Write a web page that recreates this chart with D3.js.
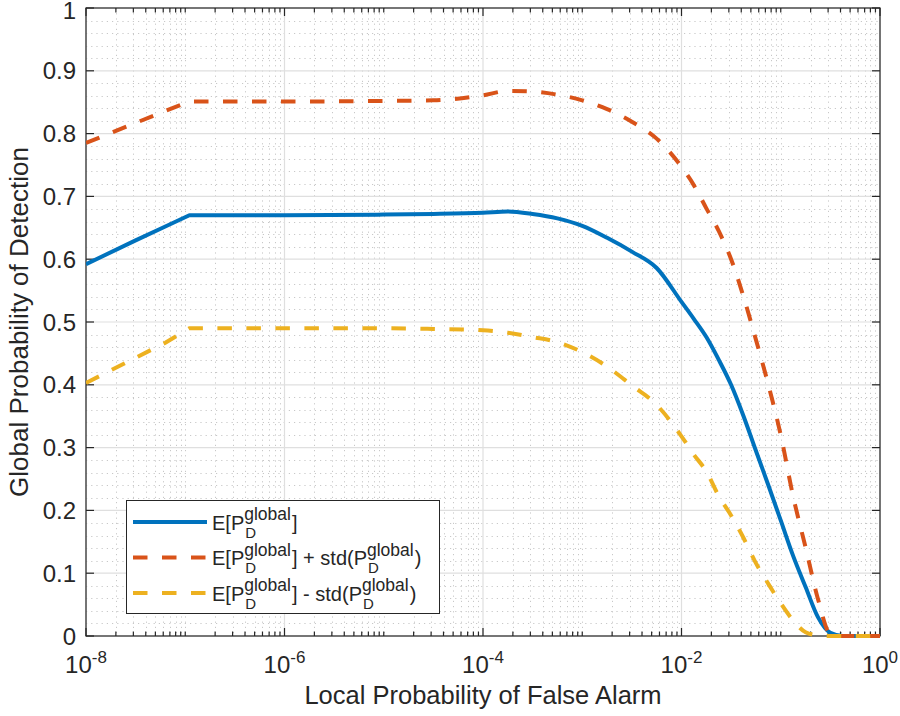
<!DOCTYPE html>
<html>
<head>
<meta charset="utf-8">
<script src="https://cdn.jsdelivr.net/npm/d3@7"></script>
<style>
  body { margin: 0; background: #fff; }
  svg { display: block; font-family: "Liberation Sans", Arial, Helvetica, sans-serif; }
</style>
</head>
<body>
<div class="figure"></div>
<script>
// local probability of false alarm (x values)
const pfa = [1e-8, 3.16e-8, 6.3e-8, 1.1e-7, 1e-6, 1e-5, 3.16e-5, 1e-4, 1.78e-4, 3.16e-4, 5.62e-4,
  1e-3, 1.78e-3, 3.16e-3, 5.62e-3, 1e-2, 1.33e-2, 1.78e-2, 2.37e-2, 3.16e-2,
  4.22e-2, 5.62e-2, 7.5e-2, 0.1, 0.133, 0.178, 0.237, 0.316, 0.422, 0.562, 1]

// E[Pd global]
const meanPd = [0.592, 0.630, 0.652, 0.670, 0.670, 0.671, 0.672, 0.674, 0.676, 0.672, 0.665,
  0.653, 0.634, 0.612, 0.586, 0.532, 0.505, 0.476, 0.440, 0.400,
  0.350, 0.295, 0.240, 0.184, 0.128, 0.078, 0.030, 0.005, 0, 0, 0]

// E + std
const upperPd = [0.785, 0.817, 0.836, 0.851, 0.851, 0.852, 0.853, 0.861, 0.868, 0.867, 0.862,
  0.853, 0.839, 0.819, 0.792, 0.747, 0.718, 0.681, 0.645, 0.600,
  0.540, 0.472, 0.400, 0.320, 0.223, 0.141, 0.059, 0.003, 0, 0, 0]

// E - std
const lowerPd = [0.403, 0.443, 0.467, 0.490, 0.490, 0.490, 0.489, 0.487, 0.483, 0.476, 0.468,
  0.452, 0.429, 0.399, 0.368, 0.318, 0.289, 0.262, 0.223, 0.192,
  0.156, 0.116, 0.083, 0.052, 0.025, 0.006, 0.001, 0, 0, 0, 0]

const yTicks = [0, 0.1, 0.2, 0.3, 0.4, 0.5, 0.6, 0.7, 0.8, 0.9, 1]
const yTickLabels = ["0", "0.1", "0.2", "0.3", "0.4", "0.5", "0.6", "0.7", "0.8", "0.9", "1"]
const xTicks = [1e-8, 1e-6, 1e-4, 1e-2, 1]
const xTickExps = ["-8", "-6", "-4", "-2", "0"]

const series = [
  {name: "mean", values: meanPd, color: "#0072BD", dash: null},
  {name: "plus", values: upperPd, color: "#D95319", dash: "14.5,14.5"},
  {name: "minus", values: lowerPd, color: "#EDB120", dash: "14.5,14.5"}
]

const width = 900
const height = 716
const plotLeft = 86, plotRight = 880, plotTop = 8, plotBottom = 636
const axisColor = "#262626"

const x = d3.scaleLog().domain([1e-8, 1]).range([plotLeft, plotRight])
const y = d3.scaleLinear().domain([0, 1]).range([plotBottom, plotTop])

const svg = d3.select(".figure").append("svg")
    .attr("width", width)
    .attr("height", height)

svg.append("rect").attr("width", width).attr("height", height).attr("fill", "#fff")

// minor positions
let xMinor = []
d3.range(-8, 0).forEach(e => {
  d3.range(1, 10).forEach(k => {
    let v = k * Math.pow(10, e)
    if (!(k === 1 && e % 2 === 0)) xMinor.push(v)
  })
})
let yMinor = d3.range(1, 50).map(i => i * 0.02).filter(v => Math.abs(v * 10 - Math.round(v * 10)) > 1e-6)

const grid = svg.append("g")

// minor grid (dotted)
grid.selectAll(".xminor").data(xMinor).join("line")
    .attr("x1", d => Math.round(x(d)) + 0.5).attr("x2", d => Math.round(x(d)) + 0.5)
    .attr("y1", plotTop).attr("y2", plotBottom)
    .attr("stroke", "#c8c8c8").attr("stroke-width", 1).attr("stroke-dasharray", "1.2,4")
grid.selectAll(".yminor").data(yMinor).join("line")
    .attr("x1", plotLeft).attr("x2", plotRight)
    .attr("y1", d => Math.round(y(d)) + 0.5).attr("y2", d => Math.round(y(d)) + 0.5)
    .attr("stroke", "#c8c8c8").attr("stroke-width", 1).attr("stroke-dasharray", "1.2,4")

// major grid
grid.selectAll(".xmajor").data(xTicks).join("line")
    .attr("x1", d => x(d)).attr("x2", d => x(d))
    .attr("y1", plotTop).attr("y2", plotBottom)
    .attr("stroke", "#dfdfdf").attr("stroke-width", 1.2)
grid.selectAll(".ymajor").data(yTicks).join("line")
    .attr("x1", plotLeft).attr("x2", plotRight)
    .attr("y1", d => y(d)).attr("y2", d => y(d))
    .attr("stroke", "#dfdfdf").attr("stroke-width", 1.2)

// axes box and ticks
const ax = svg.append("g").attr("stroke", axisColor).attr("stroke-width", 1.2)
ax.append("rect").attr("x", plotLeft).attr("y", plotTop)
    .attr("width", plotRight - plotLeft).attr("height", plotBottom - plotTop).attr("fill", "none")

yTicks.forEach(v => {
  ax.append("line").attr("x1", plotLeft).attr("x2", plotLeft + 8).attr("y1", y(v)).attr("y2", y(v))
  ax.append("line").attr("x1", plotRight).attr("x2", plotRight - 8).attr("y1", y(v)).attr("y2", y(v))
})
xTicks.forEach(v => {
  ax.append("line").attr("x1", x(v)).attr("x2", x(v)).attr("y1", plotBottom).attr("y2", plotBottom - 8)
  ax.append("line").attr("x1", x(v)).attr("x2", x(v)).attr("y1", plotTop).attr("y2", plotTop + 8)
})
xMinor.forEach(v => {
  ax.append("line").attr("x1", x(v)).attr("x2", x(v)).attr("y1", plotBottom).attr("y2", plotBottom - 4.5)
  ax.append("line").attr("x1", x(v)).attr("x2", x(v)).attr("y1", plotTop).attr("y2", plotTop + 4.5)
})

// tick labels
svg.append("g").selectAll("text").data(yTicks).join("text")
    .attr("x", 76)
    .attr("y", d => Math.max(y(d) + 8.5, 19))
    .attr("text-anchor", "end")
    .attr("font-size", 24)
    .attr("fill", axisColor)
    .text((d, i) => yTickLabels[i])

const xl = svg.append("g").selectAll("text").data(xTicks).join("text")
    .attr("x", d => x(d))
    .attr("y", 673)
    .attr("text-anchor", "middle")
    .attr("font-size", 24)
    .attr("fill", axisColor)
xl.append("tspan").text("10")
xl.append("tspan").attr("dy", -10).attr("font-size", 17).text((d, i) => xTickExps[i])

// axis labels
svg.append("text")
    .attr("x", (plotLeft + plotRight) / 2)
    .attr("y", 704)
    .attr("text-anchor", "middle")
    .attr("font-size", 25.5)
    .attr("fill", axisColor)
    .text("Local Probability of False Alarm")

svg.append("text")
    .attr("transform", `translate(28, ${(plotTop + plotBottom) / 2}) rotate(-90)`)
    .attr("text-anchor", "middle")
    .attr("font-size", 26)
    .attr("fill", axisColor)
    .text("Global Probability of Detection")

// data lines
svg.append("clipPath").attr("id", "plotclip")
  .append("rect").attr("x", plotLeft).attr("y", plotTop - 3)
    .attr("width", plotRight - plotLeft + 2).attr("height", plotBottom - plotTop + 6)

// straight rise up to the knee at ~1e-7, smooth curve after it
const kneeIndex = 3
const straight = d3.line().x(d => x(d[0])).y(d => y(d[1]))
const smooth = d3.line().x(d => x(d[0])).y(d => y(d[1])).curve(d3.curveMonotoneX)

function seriesPath(pts) {
  let head = straight(pts.slice(0, kneeIndex + 1))
  let tail = smooth(pts.slice(kneeIndex)).replace(/^M/, "L")
  return head + tail
}

const lines = svg.append("g").attr("clip-path", "url(#plotclip)")
series.forEach(s => {
  lines.append("path")
      .datum(pfa.map((p, i) => [p, s.values[i]]))
      .attr("fill", "none")
      .attr("stroke", s.color)
      .attr("stroke-width", 4)
      .attr("stroke-dasharray", s.dash)
      .attr("stroke-linejoin", "round")
      .attr("d", seriesPath)
})

// legend
const legend = svg.append("g")
legend.append("rect")
    .attr("x", 126.5).attr("y", 500.5)
    .attr("width", 313).attr("height", 113)
    .attr("fill", "#fff")
    .attr("stroke", axisColor)
    .attr("stroke-width", 1)

const legendRows = [
  [{t: "E[P"}, {sup: "global", sub: "D"}, {t: "]"}],
  [{t: "E[P"}, {sup: "global", sub: "D"}, {t: "] + std(P"}, {sup: "global", sub: "D"}, {t: ")"}],
  [{t: "E[P"}, {sup: "global", sub: "D"}, {t: "] - std(P"}, {sup: "global", sub: "D"}, {t: ")"}]
]
const rowY = [522, 557.5, 593]

series.forEach((s, i) => {
  let ry = rowY[i]
  legend.append("line")
      .attr("x1", 133).attr("x2", 207)
      .attr("y1", ry).attr("y2", ry)
      .attr("stroke", s.color)
      .attr("stroke-width", 4)
      .attr("stroke-dasharray", s.dash)

  let cx = 212
  legendRows[i].forEach(piece => {
    if (piece.t !== undefined) {
      let t = legend.append("text")
          .attr("x", cx).attr("y", ry + 7.5)
          .attr("font-size", 20).attr("fill", axisColor)
          .style("white-space", "pre")
          .text(piece.t)
      cx += t.node().getComputedTextLength()
    } else {
      let a = legend.append("text")
          .attr("x", cx).attr("y", ry - 2)
          .attr("font-size", 17.5).attr("fill", axisColor)
          .text(piece.sup)
      let b = legend.append("text")
          .attr("x", cx + 1).attr("y", ry + 15.5)
          .attr("font-size", 15).attr("fill", axisColor)
          .text(piece.sub)
      cx += Math.max(a.node().getComputedTextLength(), b.node().getComputedTextLength()) + 1
    }
  })
})
</script>
</body>
</html>
